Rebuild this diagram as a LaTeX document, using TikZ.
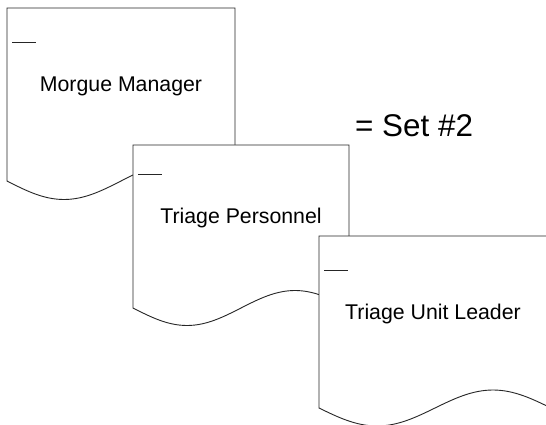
\documentclass[tikz,border=0pt]{standalone}
\usepackage{fontspec}
\setmainfont{Liberation Sans}
\begin{document}
\begin{tikzpicture}[x=1pt,y=-1pt,
  docline/.style={draw=black!85,line width=0.9pt,fill=white},
  tickline/.style={draw=black!85,line width=0.9pt},
  doclabel/.style={font=\fontsize{21.3}{24}\selectfont,anchor=base,inner sep=0pt},
  setlabel/.style={font=\fontsize{31.4}{36}\selectfont,anchor=base west,inner sep=0pt}]
\useasboundingbox[fill=white] (0,0) rectangle (546,425);
% page with a wavy lower edge: left x, top y, width, base y of wave, wave amplitude, tick offset
\newcommand\docpage[6]{%
  \pgfmathsetmacro\xa{#1+#3/4}%
  \pgfmathsetmacro\xb{#1+#3/2}%
  \pgfmathsetmacro\xc{#1+3*#3/4}%
  \pgfmathsetmacro\xd{#1+#3}%
  \pgfmathsetmacro\ylo{#4+#5}%
  \pgfmathsetmacro\yhi{#4-#5}%
  \pgfmathsetmacro\ytick{#2+#6}%
  \path[docline] (#1,#2) -- (#1,#4) sin (\xa,\ylo) cos (\xb,#4)
     sin (\xc,\yhi) cos (\xd,#4) -- (\xd,#2) -- cycle;
  \draw[tickline] (#1+5,\ytick) -- (#1+29,\ytick);
}
\docpage{7}{8}{228}{181}{18.5}{34}
\node[doclabel] (morgue) at (121,91.5) {Morgue Manager};
\docpage{133}{145}{216}{308}{17.5}{29.5}
\node[doclabel] (personnel) at (241,223.5) {Triage Personnel};
\docpage{319}{236}{232}{408}{18}{34}
\node[doclabel] (leader) at (433,319.3) {Triage Unit Leader};
\node[setlabel] (set) at (355,137) {= Set \#2};
\end{tikzpicture}
\end{document}
